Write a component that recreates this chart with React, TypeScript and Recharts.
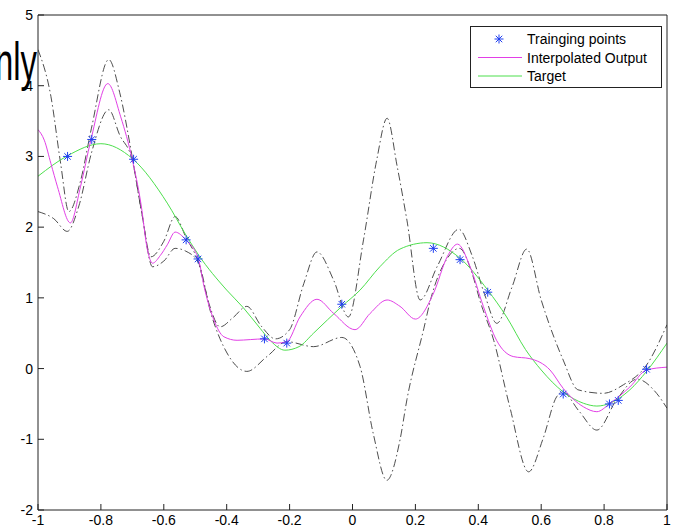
import React from 'react';
import { ComposedChart, Line, Scatter, XAxis, YAxis, Legend } from 'recharts';

// axis ticks
const X_TICKS = [-1, -0.8, -0.6, -0.4, -0.2, 0, 0.2, 0.4, 0.6, 0.8, 1];
const Y_TICKS = [-2, -1, 0, 1, 2, 3, 4, 5];

// training samples [x, y]
const TRAIN: [number, number][] = [
  [-0.906, 3.0], [-0.829, 3.24], [-0.696, 2.96], [-0.529, 1.82], [-0.491, 1.55],
  [-0.28, 0.42], [-0.209, 0.36], [-0.034, 0.91], [0.257, 1.7], [0.342, 1.54],
  [0.43, 1.08], [0.67, -0.36], [0.817, -0.5], [0.845, -0.45], [0.935, -0.01],
];

// target function
const TARGET: [number, number][] = [
  [-1, 2.72], [-0.906, 3.01], [-0.8, 3.18], [-0.7, 2.97], [-0.589, 2.34],
  [-0.53, 1.89], [-0.49, 1.61], [-0.4, 1.11], [-0.347, 0.86], [-0.294, 0.57],
  [-0.26, 0.39], [-0.215, 0.26], [-0.17, 0.31], [-0.124, 0.5], [-0.034, 0.88],
  [0.024, 1.11], [0.087, 1.44], [0.151, 1.69], [0.237, 1.78], [0.342, 1.56],
  [0.43, 1.11], [0.49, 0.73], [0.55, 0.27], [0.6, -0.02], [0.67, -0.33],
  [0.734, -0.49], [0.777, -0.53], [0.819, -0.49], [0.882, -0.3], [0.935, -0.04],
  [1, 0.36],
];

// interpolated output
const OUTPUT: [number, number][] = [
  [-1, 3.38], [-0.98, 3.23], [-0.959, 2.9], [-0.938, 2.57], [-0.897, 2.06],
  [-0.865, 2.57], [-0.832, 3.23], [-0.778, 4.03], [-0.737, 3.56], [-0.7, 2.95],
  [-0.673, 2.34], [-0.652, 1.68], [-0.636, 1.49], [-0.611, 1.6], [-0.589, 1.75],
  [-0.564, 1.93], [-0.53, 1.82], [-0.49, 1.55], [-0.472, 1.16], [-0.441, 0.69],
  [-0.409, 0.45], [-0.367, 0.4], [-0.325, 0.41], [-0.28, 0.42], [-0.24, 0.36],
  [-0.209, 0.38], [-0.167, 0.73], [-0.113, 0.98], [-0.06, 0.78], [0.008, 0.55],
  [0.056, 0.78], [0.11, 0.97], [0.151, 0.88], [0.2, 0.7], [0.258, 1.07],
  [0.301, 1.58], [0.334, 1.76], [0.374, 1.44], [0.416, 0.88], [0.458, 0.4],
  [0.511, 0.17], [0.564, 0.14], [0.628, -0.02], [0.67, -0.28], [0.734, -0.54],
  [0.777, -0.61], [0.817, -0.5], [0.882, -0.26], [0.935, -0.02], [1, 0.02],
];

// upper error bound
const UPPER: [number, number][] = [
  [-1, 4.51], [-0.959, 3.85], [-0.928, 2.9], [-0.902, 2.22], [-0.865, 2.65],
  [-0.83, 3.4], [-0.775, 4.37], [-0.74, 3.9], [-0.7, 2.98], [-0.67, 2.2],
  [-0.641, 1.58], [-0.6, 1.8], [-0.564, 2.15], [-0.53, 1.86], [-0.49, 1.5],
  [-0.455, 0.9], [-0.421, 0.59], [-0.38, 0.72], [-0.336, 0.88], [-0.29, 0.6],
  [-0.245, 0.42], [-0.2, 0.55], [-0.155, 1.2], [-0.113, 1.65], [-0.06, 1.25],
  [-0.013, 0.73], [0.035, 1.82], [0.077, 2.95], [0.11, 3.54], [0.142, 2.86],
  [0.173, 2.1], [0.215, 0.97], [0.27, 1.45], [0.338, 1.97], [0.38, 1.6],
  [0.42, 1.05], [0.459, 0.64], [0.507, 1.15], [0.554, 1.69], [0.6, 0.97],
  [0.67, 0.12], [0.717, -0.3], [0.797, -0.35], [0.861, -0.23], [0.935, 0.05],
  [1, 0.62],
];

// lower error bound
const LOWER: [number, number][] = [
  [-1, 2.22], [-0.95, 2.12], [-0.907, 1.94], [-0.87, 2.3], [-0.83, 3.05],
  [-0.775, 3.66], [-0.74, 3.3], [-0.7, 2.94], [-0.67, 2.2], [-0.636, 1.44],
  [-0.6, 1.52], [-0.564, 1.7], [-0.53, 1.66], [-0.49, 1.5], [-0.45, 0.78],
  [-0.399, 0.22], [-0.336, -0.04], [-0.272, 0.17], [-0.209, 0.38], [-0.124, 0.31],
  [-0.034, 0.44], [0.024, 0.03], [0.066, -0.92], [0.109, -1.58], [0.151, -1.01],
  [0.173, -0.44], [0.227, 0.57], [0.248, 0.97], [0.3, 1.55], [0.34, 1.7],
  [0.38, 1.35], [0.406, 0.95], [0.449, 0.4], [0.5, -0.54], [0.56, -1.46],
  [0.606, -0.99], [0.649, -0.4], [0.668, -0.33], [0.72, -0.6], [0.777, -0.87],
  [0.84, -0.44], [0.905, -0.15], [0.967, -0.35], [1, -0.56],
];

const FONT = 'Arial, "Liberation Sans", Helvetica, sans-serif';
const AXIS = '#222';
const MAGENTA = '#e23fe6';
const GREEN = '#4ddf4d';
const BLUE = '#1f3ff0';
const BOUND = '#3a3a3a';
const TICK_LEN = 6;

const toPoints = (pts: [number, number][]) => pts.map(([x, y]) => ({ x, y }));

function Asterisk({ cx, cy, r = 4.5 }: { cx: number; cy: number; r?: number }) {
  const d = r * 0.72;
  return (
    <g stroke={BLUE} strokeWidth={1}>
      <line x1={cx - r} y1={cy} x2={cx + r} y2={cy} />
      <line x1={cx} y1={cy - r} x2={cx} y2={cy + r} />
      <line x1={cx - d} y1={cy - d} x2={cx + d} y2={cy + d} />
      <line x1={cx - d} y1={cy + d} x2={cx + d} y2={cy - d} />
    </g>
  );
}

function BottomTick(props: any) {
  const { x, y, payload } = props;
  return (
    <g>
      <line x1={x} y1={y} x2={x} y2={y - TICK_LEN} stroke={AXIS} />
      <text x={x} y={y + 15} textAnchor="middle" fontSize={14} fontFamily={FONT} fill="#000">
        {String(payload.value)}
      </text>
    </g>
  );
}

function LeftTick(props: any) {
  const { x, y, payload } = props;
  return (
    <g>
      <line x1={x} y1={y} x2={x + TICK_LEN} y2={y} stroke={AXIS} />
      <text x={x - 5} y={y + 5} textAnchor="end" fontSize={14} fontFamily={FONT} fill="#000">
        {String(payload.value)}
      </text>
    </g>
  );
}

function TopTick(props: any) {
  const { x, y } = props;
  return <line x1={x} y1={y} x2={x} y2={y + TICK_LEN} stroke={AXIS} />;
}

function RightTick(props: any) {
  const { x, y } = props;
  return <line x1={x} y1={y} x2={x - TICK_LEN} y2={y} stroke={AXIS} />;
}

function LegendBox() {
  const rows = [12, 30.5, 49];
  return (
    <div
      style={{
        width: 192,
        height: 62,
        boxSizing: 'border-box',
        border: `1px solid ${AXIS}`,
        background: '#fff',
      }}
    >
      <svg width={190} height={60} style={{ display: 'block' }}>
        <Asterisk cx={28} cy={rows[0]} />
        <line x1={7} y1={rows[1]} x2={51} y2={rows[1]} stroke={MAGENTA} />
        <line x1={7} y1={rows[2]} x2={51} y2={rows[2]} stroke={GREEN} />
        {['Trainging points', 'Interpolated Output', 'Target'].map((label, i) => (
          <text key={label} x={56} y={rows[i] + 5} fontSize={14} fontFamily={FONT} fill="#000">
            {label}
          </text>
        ))}
      </svg>
    </div>
  );
}

export default function App() {
  return (
    <div style={{ position: 'absolute', left: 0, top: 0, width: 673, height: 528, background: '#fff' }}>
      <ComposedChart width={673} height={528} margin={{ top: 14, right: 5, bottom: 0, left: 0 }}>
        <XAxis
          xAxisId="bottom"
          dataKey="x"
          type="number"
          domain={[-1, 1]}
          ticks={X_TICKS}
          interval={0}
          allowDataOverflow
          height={18}
          tickSize={0}
          tickMargin={0}
          tickLine={false}
          axisLine={{ stroke: AXIS }}
          tick={<BottomTick />}
        />
        <XAxis
          xAxisId="top"
          orientation="top"
          dataKey="x"
          type="number"
          domain={[-1, 1]}
          ticks={X_TICKS}
          interval={0}
          height={1}
          tickSize={0}
          tickMargin={0}
          tickLine={false}
          axisLine={{ stroke: AXIS }}
          tick={<TopTick />}
        />
        <YAxis
          yAxisId="left"
          type="number"
          domain={[-2, 5]}
          ticks={Y_TICKS}
          interval={0}
          allowDataOverflow
          width={38}
          tickSize={0}
          tickMargin={0}
          tickLine={false}
          axisLine={{ stroke: AXIS }}
          tick={<LeftTick />}
        />
        <YAxis
          yAxisId="right"
          orientation="right"
          type="number"
          domain={[-2, 5]}
          ticks={Y_TICKS}
          interval={0}
          width={1}
          tickSize={0}
          tickMargin={0}
          tickLine={false}
          axisLine={{ stroke: AXIS }}
          tick={<RightTick />}
        />

        <Line
          xAxisId="bottom"
          yAxisId="left"
          data={toPoints(UPPER)}
          dataKey="y"
          type="monotone"
          stroke={BOUND}
          strokeWidth={0.9}
          strokeDasharray="8 3 1.5 3"
          dot={false}
          activeDot={false}
          isAnimationActive={false}
        />
        <Line
          xAxisId="bottom"
          yAxisId="left"
          data={toPoints(LOWER)}
          dataKey="y"
          type="monotone"
          stroke={BOUND}
          strokeWidth={0.9}
          strokeDasharray="8 3 1.5 3"
          dot={false}
          activeDot={false}
          isAnimationActive={false}
        />
        <Line
          xAxisId="bottom"
          yAxisId="left"
          data={toPoints(TARGET)}
          dataKey="y"
          type="monotone"
          stroke={GREEN}
          strokeWidth={1}
          dot={false}
          activeDot={false}
          isAnimationActive={false}
        />
        <Line
          xAxisId="bottom"
          yAxisId="left"
          data={toPoints(OUTPUT)}
          dataKey="y"
          type="monotone"
          stroke={MAGENTA}
          strokeWidth={1}
          dot={false}
          activeDot={false}
          isAnimationActive={false}
        />
        <Scatter
          xAxisId="bottom"
          yAxisId="left"
          data={toPoints(TRAIN)}
          dataKey="y"
          isAnimationActive={false}
          shape={(p: any) => <Asterisk cx={p.cx} cy={p.cy} />}
        />

        <Legend
          layout="vertical"
          align="center"
          verticalAlign="middle"
          content={() => <LegendBox />}
          wrapperStyle={{ left: 470, top: 26, width: 192, height: 62 }}
        />
      </ComposedChart>

      <svg
        width={673}
        height={528}
        style={{ position: 'absolute', left: 0, top: 0, pointerEvents: 'none' }}
      >
        <text
          x={37}
          y={80}
          textAnchor="end"
          fontSize={53}
          fontFamily={FONT}
          fill="#000"
          transform="translate(37 0) scale(0.62 1) translate(-37 0)"
        >
          nly
        </text>
      </svg>
    </div>
  );
}
